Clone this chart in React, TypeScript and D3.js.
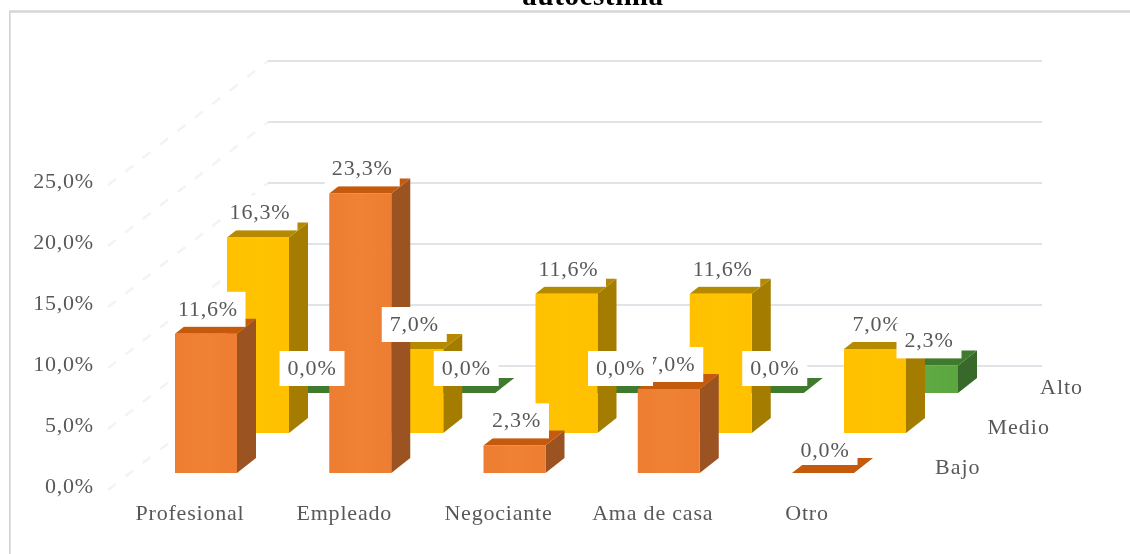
import React from "react";
import * as d3 from "d3";

const categories = ["Profesional", "Empleado", "Negociante", "Ama de casa", "Otro"];
const seriesNames = ["Bajo", "Medio", "Alto"];
const bajo = [11.6, 23.3, 2.3, 7.0, 0.0];
const medio = [16.3, 7.0, 11.6, 11.6, 7.0];
const alto = [0.0, 0.0, 0.0, 0.0, 2.3];
const yTicks = [0, 5, 10, 15, 20, 25];

const rows = [
  { name: seriesNames[0], values: bajo, front: "#ED7D31", mid: "#EF8235", top: "#C55A11", side: "#9C5223" },
  { name: seriesNames[1], values: medio, front: "#FFC000", mid: "#FFC306", top: "#B58900", side: "#A37C00" },
  { name: seriesNames[2], values: alto, front: "#5BA63F", mid: "#5FAA43", top: "#3F7A2D", side: "#38692A" },
];

const fmt = (v: number) => v.toFixed(1).replace(".", ",") + "%";
const W = 1130, H = 554;
const FONT = "'Liberation Serif', serif";
const TXT = "#595959";

const step = 154.25;
const barW = 62;
// axis labels and back wall gridlines
const y = d3.scaleLinear().domain([0, 30]).range([473, 107]);
// bar heights in the projected chart
const yBar = d3.scaleLinear().domain([0, 30]).range([473, 113]);
const rowDx = 52, rowDy = -40, depthX = 19, depthY = -15;
const X0 = (i: number, r: number) => 175 + i * step + r * rowDx;
const Y0 = (v: number, r: number) => yBar(v) + r * rowDy;

export default function App() {
  const poly = d3.line();
  const bars: React.ReactNode[] = [];
  [2, 1, 0].forEach((r) => {
    const row = rows[r];
    row.values.forEach((v, i) => {
      const xl = X0(i, r), xr = xl + barW, yb = Y0(0, r), yt = Y0(v, r);
      const p = (pts: [number, number][]) => poly(pts) + "Z";
      bars.push(
        <g key={r + "-" + i}>
          <path d={p([[xr, yb], [xr + depthX, yb + depthY], [xr + depthX, yt + depthY], [xr, yt]])} fill={row.side} />
          <path d={p([[xl, yt], [xr, yt], [xr + depthX, yt + depthY], [xl + depthX, yt + depthY]])} fill={row.top} />
          {v > 0 && <rect x={xl} y={yt} width={barW} height={yb - yt} fill={`url(#grad${r})`} />}
        </g>
      );
    });
  });

  const labels: React.ReactNode[] = [];
  rows.forEach((row, r) => {
    row.values.forEach((v, i) => {
      const cx = X0(i, r) + barW / 2 + 2;
      const cy = v === 0 && r === 0 ? Y0(0, r) - 23 : Y0(v, r) - 25;
      const boxW = fmt(v).length > 4 ? 75 : 65;
      const boxBottom = v === 0 && r === 0 ? cy + 15 : cy + 18;
      labels.push(
        <g key={"l" + r + "-" + i}>
          <rect x={cx - boxW / 2} y={cy - 17} width={boxW} height={boxBottom - cy + 17} fill="#fff" />
          <text x={cx} y={cy + 7} textAnchor="middle" fontSize={22} letterSpacing={0.8} fill={TXT} fontFamily={FONT}>{fmt(v)}</text>
        </g>
      );
    });
  });

  return (
    <svg width={W} height={H} style={{ position: "absolute", left: 0, top: 0, background: "#fff" }}>
      <defs>
        {rows.map((row, r) => (
          <linearGradient key={r} id={`grad${r}`} x1="0" x2="1" y1="0" y2="0">
            <stop offset="0" stopColor={row.front} />
            <stop offset="0.5" stopColor={row.mid} />
            <stop offset="1" stopColor={row.front} />
          </linearGradient>
        ))}
        <filter id="soft" x="0" y="0" width="100%" height="100%">
          <feGaussianBlur stdDeviation="0.6" />
        </filter>
      </defs>
      <g filter="url(#soft)">
        <text x={593} y={5} textAnchor="middle" fontSize={29} letterSpacing={0.6} fontWeight="bold" fontFamily={FONT} fill="#000">autoestima</text>
        <path d={`M9.5 554V11.5H1130`} fill="none" stroke="#D6D6D6" strokeWidth={2.5} />
        {yTicks.map((g) => {
          const yBack = y(g) - 107;
          const yFront = yBack + 124;
          return (
            <g key={g}>
              <line x1={108} y1={yFront} x2={268} y2={yBack} stroke="#F3F3F3" strokeWidth={2.5} strokeDasharray="10 12" />
              <line x1={268} y1={yBack} x2={1042} y2={yBack} stroke="#D6DADF" strokeWidth={1.5} />
            </g>
          );
        })}
        {bars}
        {labels}
        {yTicks.map((t) => (
          <text key={t} x={94} y={y(t) + 20} textAnchor="end" fontSize={22} letterSpacing={0.8} fill={TXT} fontFamily={FONT}>{fmt(t)}</text>
        ))}
        {categories.map((c, i) => (
          <text key={c} x={190 + i * step} y={520} textAnchor="middle" fontSize={22} letterSpacing={0.8} fill={TXT} fontFamily={FONT}>{c}</text>
        ))}
        {seriesNames.map((s, r) => (
          <text key={s} x={935 + r * 52.5} y={474 + r * rowDy} fontSize={22} fill={TXT} fontFamily={FONT} letterSpacing={1}>{s}</text>
        ))}
      </g>
    </svg>
  );
}
